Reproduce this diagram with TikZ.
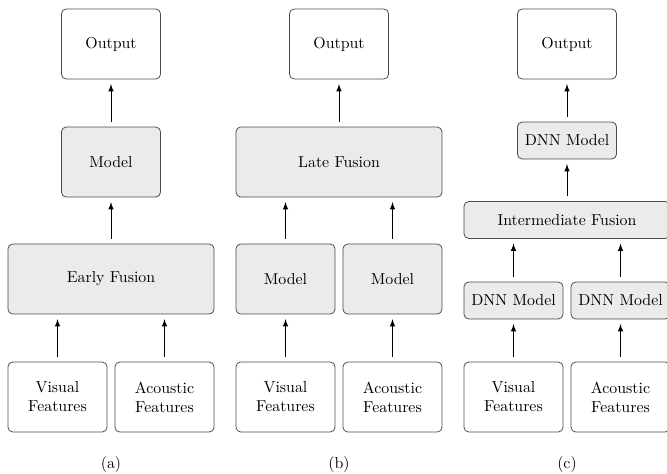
\documentclass[tikz,border=0pt]{standalone}
\usepackage{tikz}

\tikzset{
  plain/.style={draw=black!70, line width=0.5pt, rectangle, rounded corners=3pt,
    align=center, minimum width=62.4pt, minimum height=44.1pt, inner sep=2pt},
  shaded/.style={plain, fill=black!8},
  wide/.style={minimum width=129.8pt},
  slim/.style={minimum height=23.3pt},
  flow/.style={->, >=latex, semithick, shorten <=3pt, shorten >=3pt}
}

\begin{document}
\begin{tikzpicture}[x=0.63pt, y=-0.63pt]

\useasboundingbox (0,0) rectangle (667,473);

% (a) early fusion
\node[plain] (Aout) at (111,44) {Output};%
\node[shaded] (Amod) at (111,162) {Model};%
\node[shaded, wide] (Afus) at (111,279) {Early Fusion};%
\node[plain] (Avis) at (57.5,397) {Visual\\Features};%
\node[plain] (Aaco) at (164.5,397) {Acoustic\\Features};%
\node (La) at (111,465) {(a)};%

\draw[flow] (Avis) -- (Avis |- Afus.south);
\draw[flow] (Aaco) -- (Aaco |- Afus.south);
\draw[flow] (Afus) -- (Amod);
\draw[flow] (Amod) -- (Aout);

% (b) late fusion
\node[plain] (Bout) at (339,44) {Output};%
\node[shaded, wide] (Bfus) at (339,162) {Late Fusion};%
\node[shaded] (Bmodv) at (285.5,279) {Model};%
\node[shaded] (Bmoda) at (392.5,279) {Model};%
\node[plain] (Bvis) at (285.5,397) {Visual\\Features};%
\node[plain] (Baco) at (392.5,397) {Acoustic\\Features};%
\node (Lb) at (339,465) {(b)};%

\draw[flow] (Bvis) -- (Bmodv);
\draw[flow] (Baco) -- (Bmoda);
\draw[flow] (Bmodv) -- (Bmodv |- Bfus.south);
\draw[flow] (Bmoda) -- (Bmoda |- Bfus.south);
\draw[flow] (Bfus) -- (Bout);

% (c) intermediate fusion
\node[plain] (Cout) at (567,44) {Output};%
\node[shaded, slim] (Cdnn) at (567,140.5) {DNN Model};%
\node[shaded, wide, slim] (Cfus) at (567,220) {Intermediate Fusion};%
\node[shaded, slim] (Cdnnv) at (513.5,300.5) {DNN Model};%
\node[shaded, slim] (Cdnna) at (620.5,300.5) {DNN Model};%
\node[plain] (Cvis) at (513.5,397) {Visual\\Features};%
\node[plain] (Caco) at (620.5,397) {Acoustic\\Features};%
\node (Lc) at (567,465) {(c)};%

\draw[flow] (Cvis) -- (Cdnnv);
\draw[flow] (Caco) -- (Cdnna);
\draw[flow] (Cdnnv) -- (Cdnnv |- Cfus.south);
\draw[flow] (Cdnna) -- (Cdnna |- Cfus.south);
\draw[flow] (Cfus) -- (Cdnn);
\draw[flow] (Cdnn) -- (Cout);

\end{tikzpicture}
\end{document}
